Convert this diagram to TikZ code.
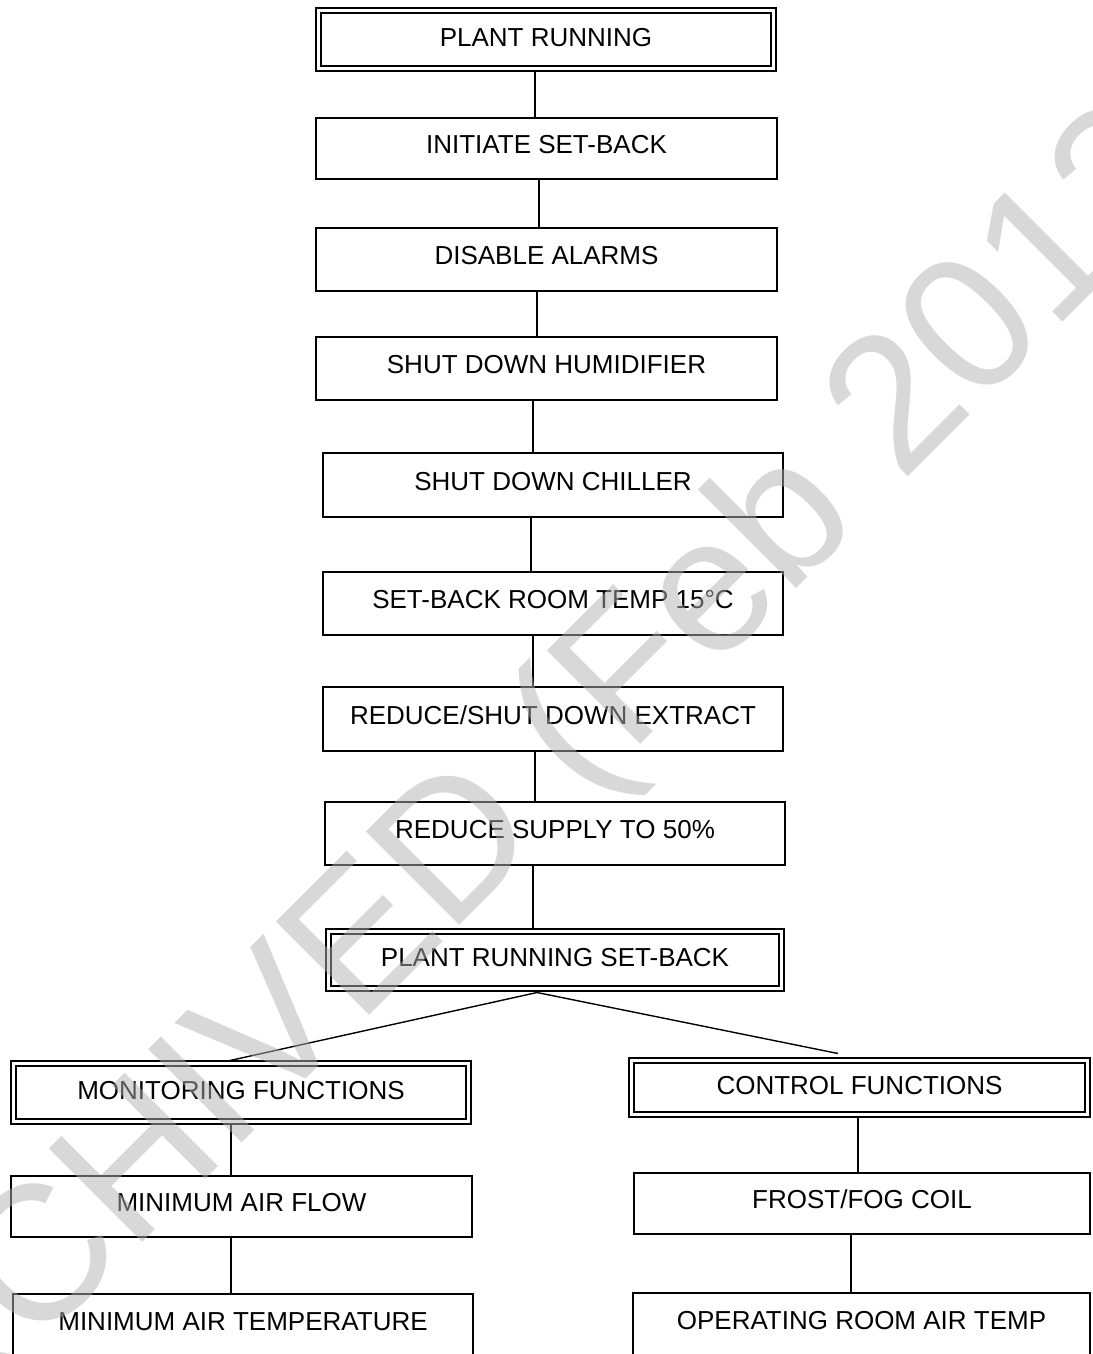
\documentclass[tikz,border=0pt]{standalone}
\usepackage{fontspec}
\setmainfont{Liberation Sans}
\usetikzlibrary{backgrounds}
\begin{document}
\begin{tikzpicture}[x=1pt,y=-1pt,
  every node/.style={font=\fontsize{26}{30}\selectfont},
  box/.style={draw, line width=1.7pt, inner sep=0pt, outer sep=0pt, text height=18.6pt, text depth=8pt},
  dbox/.style={draw, line width=2pt, double, double distance=2.2pt, inner sep=0pt, outer sep=0pt, text height=18.6pt, text depth=5pt},
  conn/.style={line width=1.4pt},
  wmark/.style={anchor=base west, rotate=45, text=gray!60, text opacity=0.5, inner sep=0pt, font=\fontsize{192}{200}\selectfont}]
\useasboundingbox (0,0) rectangle (1092,1354);
\clip (0,0) rectangle (1092,1354);

% main column
\node[dbox, minimum width=455pt, minimum height=58pt] (pr) at (546,39.5) {PLANT RUNNING};
\node[box, minimum width=461pt, minimum height=61pt] (init) at (546.5,148.5) {INITIATE SET-BACK};
\node[box, minimum width=461pt, minimum height=63pt] (dis) at (546.5,259.5) {DISABLE ALARMS};
\node[box, minimum width=461pt, minimum height=63pt] (hum) at (546.5,368.5) {SHUT DOWN HUMIDIFIER};
\node[box, minimum width=460pt, minimum height=64pt] (chill) at (553,485) {SHUT DOWN CHILLER};
\node[box, minimum width=460pt, minimum height=63pt] (temp) at (553,603.5) {SET-BACK ROOM TEMP 15°C};
\node[box, minimum width=460pt, minimum height=64pt] (ext) at (553,719) {REDUCE/SHUT DOWN EXTRACT};
\node[box, minimum width=460pt, minimum height=63pt] (sup) at (555,833.5) {REDUCE SUPPLY TO 50\%};
\node[dbox, minimum width=453pt, minimum height=57pt] (prsb) at (555,960) {PLANT RUNNING SET-BACK};

% left branch
\node[dbox, minimum width=455pt, minimum height=58pt] (mon) at (241,1092.5) {MONITORING FUNCTIONS};
\node[box, minimum width=461pt, minimum height=61pt] (maf) at (241.5,1206.5) {MINIMUM AIR FLOW};
\node[box, minimum width=460pt, minimum height=63pt] (mat) at (243,1325.5) {MINIMUM AIR TEMPERATURE};

% right branch
\node[dbox, minimum width=456pt, minimum height=54pt] (ctl) at (859.5,1087.5) {CONTROL FUNCTIONS};
\node[box, minimum width=456pt, minimum height=61pt] (frost) at (862,1203.5) {FROST/FOG COIL};
\node[box, minimum width=457pt, minimum height=63pt] (op) at (861.5,1324.5) {OPERATING ROOM AIR TEMP};

\begin{scope}[on background layer]
\draw[conn] ([xshift=-11pt]pr.south) coordinate (c1) -- (c1 |- init.north);
\draw[conn] ([xshift=-7.5pt]init.south) coordinate (c2) -- (c2 |- dis.north);
\draw[conn] ([xshift=-9.5pt]dis.south) coordinate (c3) -- (c3 |- hum.north);
\draw[conn] ([xshift=-13.5pt]hum.south) coordinate (c4) -- (c4 |- chill.north);
\draw[conn] ([xshift=-22pt]chill.south) coordinate (c5) -- (c5 |- temp.north);
\draw[conn] ([xshift=-20pt]temp.south) coordinate (c6) -- (c6 |- ext.north);
\draw[conn] ([xshift=-18pt]ext.south) coordinate (c7) -- (c7 |- sup.north);
\draw[conn] ([xshift=-22pt]sup.south) coordinate (c8) -- (c8 |- prsb.north);
\end{scope}
\coordinate (apex) at ([xshift=-18pt,yshift=-4pt]prsb.south);
\draw[conn] (apex) -- ([xshift=-11pt,yshift=3pt]mon.north);
\draw[conn] (apex) -- ([xshift=-21.5pt,yshift=7pt]ctl.north);
\begin{scope}[on background layer]
\draw[conn] ([xshift=-10pt]mon.south) coordinate (c9) -- (c9 |- maf.north);
\draw[conn] ([xshift=-10.5pt]maf.south) coordinate (c10) -- (c10 |- mat.north);
\draw[conn] ([xshift=-1.5pt]ctl.south) coordinate (c11) -- (c11 |- frost.north);
\draw[conn] ([xshift=-11pt]frost.south) coordinate (c12) -- (c12 |- op.north);
\end{scope}

% watermark
\node[wmark] (wm) at (-155,1540) {ARCHIVED (Feb 2013)};
\end{tikzpicture}
\end{document}
